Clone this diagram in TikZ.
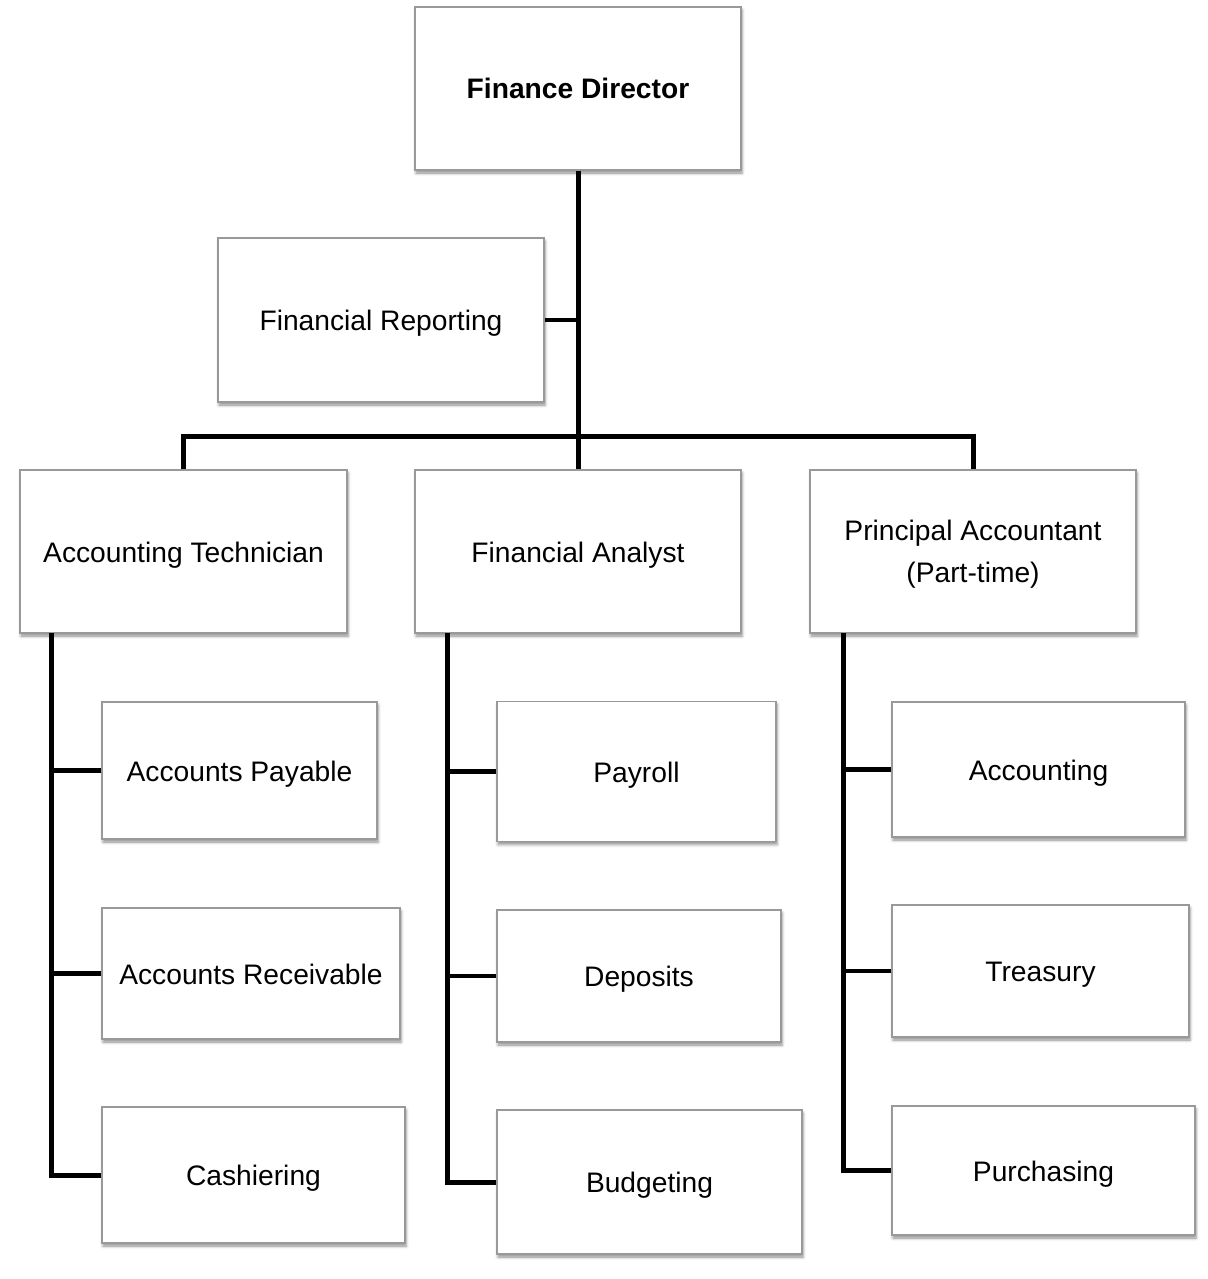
\documentclass[tikz,border=0pt]{standalone}
\usepackage{fontspec}
\setmainfont{Liberation Sans}
\usetikzlibrary{shadows.blur}
\tikzset{
  unit box/.style={draw=black!40, line width=1.2pt, fill=white, rectangle, inner sep=0pt,
    align=center, font=\fontsize{28.2}{42}\selectfont,
    text height=21pt, text depth=0pt,
    blur shadow={shadow xshift=1pt, shadow yshift=-3pt, shadow blur radius=3pt, shadow opacity=45}},
  two lines/.style={text height=, text depth=0pt},
  link/.style={line width=5pt, black},
  twig/.style={line width=4.5pt, black}
}
\begin{document}
\begin{tikzpicture}[x=1pt, y=-1pt]
\useasboundingbox (0,0) rectangle (1207,1279);

% top of the organisation
\node[unit box, minimum width=326, minimum height=163] (fd) at (578,88.5) {\bfseries Finance Director};
\node[unit box, minimum width=326, minimum height=164] (fr) at (381,320) {Financial Reporting};

% second tier
\node[unit box, minimum width=327, minimum height=163] (at) at (183.5,551.5) {Accounting Technician};
\node[unit box, minimum width=326, minimum height=163] (fa) at (578,551.5) {Financial Analyst};
\node[unit box, two lines, minimum width=326, minimum height=163] (pa) at (973,551.5) {Principal Accountant\\(Part-time)};

% under the accounting technician
\node[unit box, minimum width=275, minimum height=137] (ap) at (239.5,770.5) {Accounts Payable};
\node[unit box, minimum width=298, minimum height=131] (ar) at (251,973.5) {Accounts Receivable};
\node[unit box, minimum width=303, minimum height=136] (ca) at (253.5,1175) {Cashiering};

% under the financial analyst
\node[unit box, minimum width=279, minimum height=140] (py) at (636.5,771.5) {Payroll};
\node[unit box, minimum width=284, minimum height=132] (de) at (639,976) {Deposits};
\node[unit box, minimum width=305, minimum height=144] (bu) at (649.5,1182) {Budgeting};

% under the principal accountant
\node[unit box, minimum width=293, minimum height=135] (ac) at (1038.5,769.5) {Accounting};
\node[unit box, minimum width=297, minimum height=132] (tr) at (1040.5,971) {Treasury};
\node[unit box, minimum width=303, minimum height=129] (pu) at (1043.5,1170.5) {Purchasing};

% junction points
\coordinate (bar) at (578,436);
\coordinate (atT) at (51,633);
\coordinate (faT) at (447.5,633);
\coordinate (paT) at (843,633);

% main trunk and top-level branches
\draw[link] (fd.south) -- (fa.north);
\draw[twig] (fr.east) -- (fr.east -| fd.south);
\draw[link] (at.north) |- (bar) -| (pa.north);

% accounting technician branch
\draw[link] (atT) |- (ca.west);
\draw[twig] (ap.west) -- (ap.west -| atT);
\draw[twig] (ar.west) -- (ar.west -| atT);

% financial analyst branch
\draw[link] (faT) |- (bu.west);
\draw[twig] (py.west) -- (py.west -| faT);
\draw[twig] (de.west) -- (de.west -| faT);

% principal accountant branch
\draw[link] (paT) |- (pu.west);
\draw[twig] (ac.west) -- (ac.west -| paT);
\draw[twig] (tr.west) -- (tr.west -| paT);
\end{tikzpicture}
\end{document}
